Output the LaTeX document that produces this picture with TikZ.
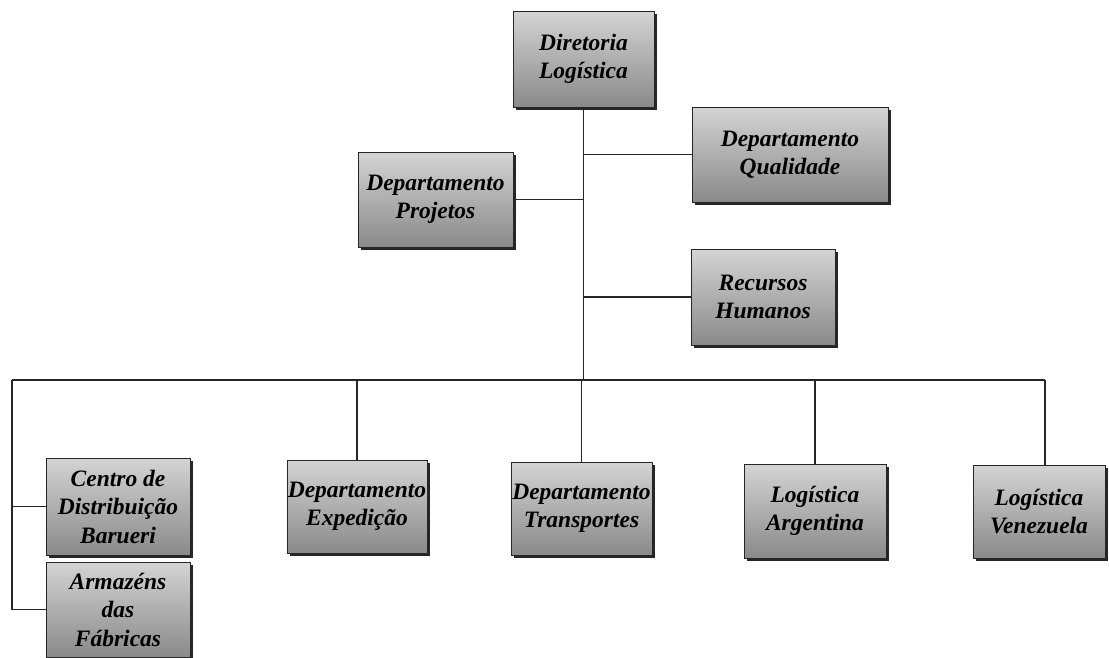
\documentclass[tikz,border=0pt]{standalone}
\usepackage{fontspec}
\setmainfont{Liberation Serif}
\usetikzlibrary{shadows}
\begin{document}
\begin{tikzpicture}[x=1pt,y=-1pt,
  box/.style={rectangle, draw=black!85, line width=0.9pt, inner sep=0pt,
    top color=black!17, bottom color=black!46, align=center,
    font=\fontsize{23.5}{28.5}\selectfont\bfseries\itshape,
    drop shadow={shadow xshift=3pt, shadow yshift=-3pt, opacity=1, fill=black!85}},
  conn/.style={draw=black!85, line width=1.3pt}]
\useasboundingbox (0,0) rectangle (1109,657);
\fill[white] (0,0) rectangle (1109,657);

\node[box, minimum width=141pt, minimum height=96pt] (dir) at (583.5,59) {Diretoria\\Logística};
\node[box, minimum width=196pt, minimum height=95pt] (qual) at (790,154.5) {Departamento\\Qualidade};
\node[box, minimum width=155pt, minimum height=95pt] (proj) at (435.5,199.5) {Departamento\\Projetos};
\node[box, minimum width=144pt, minimum height=96pt] (rh) at (763,297) {Recursos\\Humanos};

\node[box, minimum width=144pt, minimum height=97pt] (centro) at (118,506.5) {Centro de\\Distribuição\\Barueri};
\node[box, minimum width=144pt, minimum height=95pt] (arm) at (118,609.5) {Armazéns\\das\\Fábricas};
\node[box, minimum width=140pt, minimum height=93pt] (exp) at (357,506.5) {Departamento\\Expedição};
\node[box, minimum width=141pt, minimum height=93pt] (trans) at (581.5,508.5) {Departamento\\Transportes};
\node[box, minimum width=142pt, minimum height=94pt] (arg) at (815,511) {Logística\\Argentina};
\node[box, minimum width=132pt, minimum height=93pt] (ven) at (1039,511.5) {Logística\\Venezuela};

\coordinate (bL) at (12,380);
\coordinate (bR) at (1045,380);

\draw[conn] (dir.south) -- (dir.south |- bL);
\draw[conn] (bL) -- (bR);
\draw[conn] (qual.west) -- (qual.west -| dir.south);
\draw[conn] (proj.east) -- (proj.east -| dir.south);
\draw[conn] (rh.west) -- (rh.west -| dir.south);
\draw[conn] (exp.north) -- (exp.north |- bL);
\draw[conn] (trans.north) -- (trans.north |- bL);
\draw[conn] (arg.north) -- (arg.north |- bL);
\draw[conn] (bR |- ven.north) -- (bR);
\draw[conn] (bL) -- (bL |- arm.west) -- (arm.west);
\draw[conn] (centro.west) -- (centro.west -| bL);
\end{tikzpicture}
\end{document}
